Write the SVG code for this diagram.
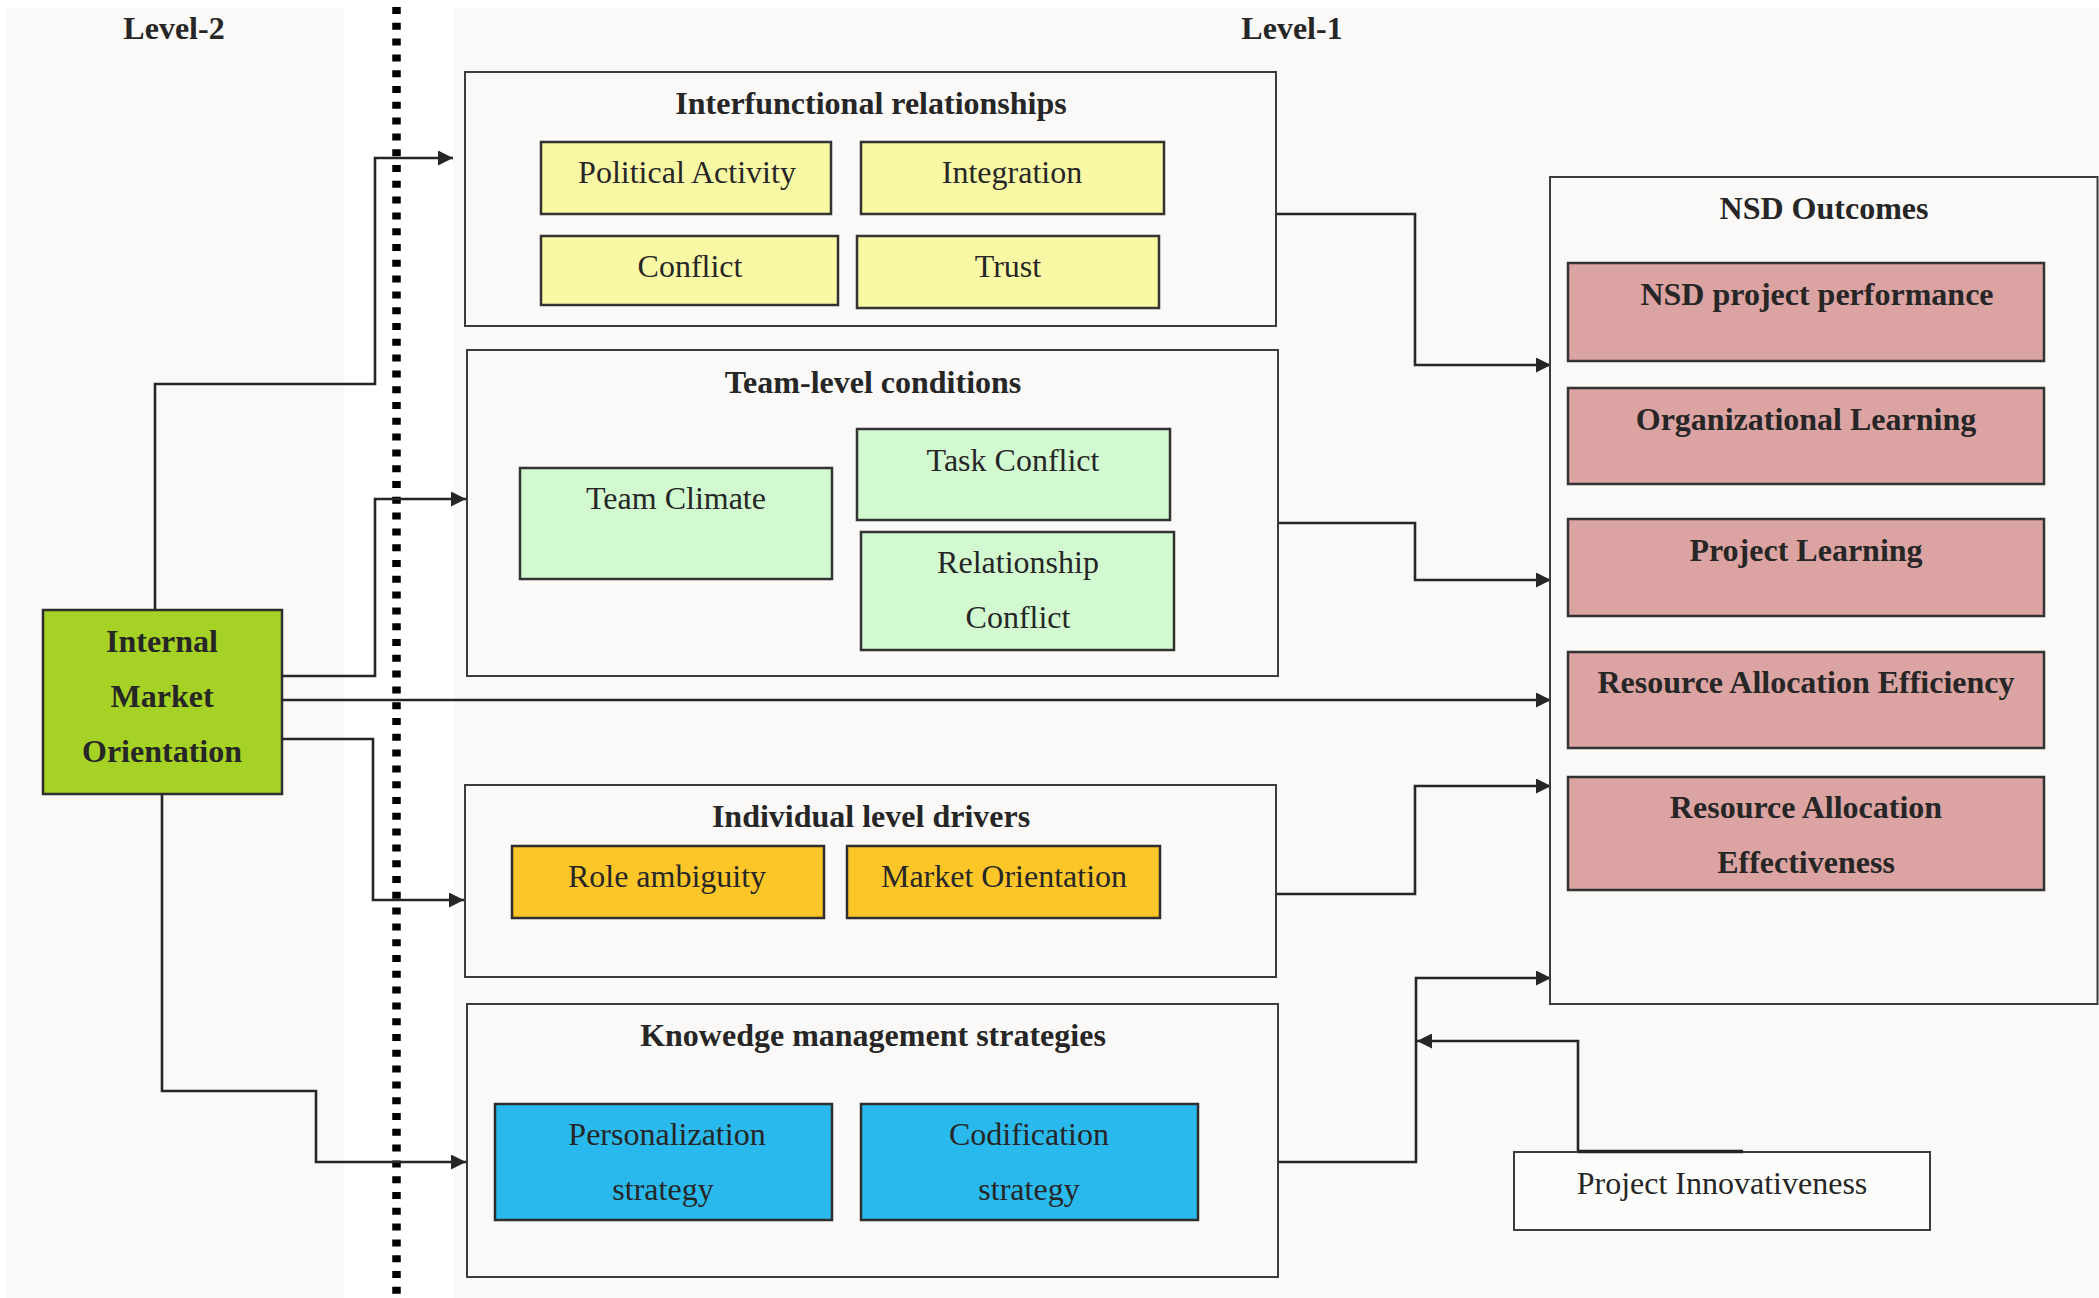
<svg xmlns="http://www.w3.org/2000/svg" width="2099" height="1298" viewBox="0 0 2099 1298">
  <style>
    text { font-family: "Liberation Serif", "Times New Roman", serif; font-size: 32px; fill: #262626; text-anchor: middle; }
    .b { font-weight: bold; }
    .panel { fill: #FAF9F7; }
    .group { fill: #FAF9F7; stroke: #3C3C3C; stroke-width: 2; }
    .yellow { fill: #F9F8A5; stroke: #333; stroke-width: 2.5; }
    .green { fill: #D2F9D0; stroke: #333; stroke-width: 2.5; }
    .orange { fill: #FDC628; stroke: #2E2E2E; stroke-width: 2.5; }
    .blue { fill: #2AB9EC; stroke: #2E2E2E; stroke-width: 2.5; }
    .pink { fill: #DBA3A2; stroke: #333; stroke-width: 2.5; }
    .lime { fill: #A6D125; stroke: #2E2E2E; stroke-width: 2.5; }
    .plain { fill: #FCFCFB; stroke: #3C3C3C; stroke-width: 2; }
    .conn { fill: none; stroke: #262626; stroke-width: 2.6; }
    .arrow { marker-end: url(#head); }
  </style>
  <defs>
    <marker id="head" markerUnits="userSpaceOnUse" markerWidth="15" markerHeight="15" refX="15" refY="7.5" orient="auto">
      <path d="M0,0 L15,7.5 L0,15 Z" fill="#262626"/>
    </marker>
  </defs>

  <!-- backgrounds of the two levels -->
  <rect width="2099" height="1298" fill="#FFFFFF"/>
  <rect class="panel" x="7" y="8" width="337" height="1290"/>
  <rect class="panel" x="453" y="8" width="1646" height="1290"/>

  <text class="b" x="174" y="39">Level-2</text>
  <text class="b" x="1292" y="39">Level-1</text>

  <!-- level divider -->
  <line x1="396.5" y1="7" x2="396.5" y2="1298" stroke="#000" stroke-width="8.5" stroke-dasharray="7 8.8"/>

  <!-- connectors -->
  <g id="connectors">
    <path class="conn arrow" d="M155,610 V384 H375 V158 H453"/>
    <path class="conn arrow" d="M282,676 H375 V499 H466"/>
    <path class="conn arrow" d="M282,700 H1551"/>
    <path class="conn arrow" d="M282,739 H373 V900 H464"/>
    <path class="conn arrow" d="M162,794 V1091 H316 V1162 H466"/>
    <path class="conn arrow" d="M1276,214 H1415 V365 H1551"/>
    <path class="conn arrow" d="M1278,523 H1415 V580 H1551"/>
    <path class="conn arrow" d="M1276,894 H1415 V786 H1551"/>
    <path class="conn arrow" d="M1278,1162 H1416 V978 H1551"/>
    <path class="conn arrow" d="M1578,1152 V1041 H1417"/>
  </g>

  <!-- Level-2 driver -->
  <g id="internal-market-orientation">
    <rect class="lime" x="43" y="610" width="239" height="184"/>
    <text class="b" x="162" y="652">Internal</text>
    <text class="b" x="162" y="707">Market</text>
    <text class="b" x="162" y="762">Orientation</text>
  </g>

  <!-- Level-1 groups -->
  <g id="interfunctional-relationships">
    <rect class="group" x="465" y="72" width="811" height="254"/>
    <text class="b" x="871" y="114">Interfunctional relationships</text>
    <g id="political-activity">
      <rect class="yellow" x="541" y="142" width="290" height="72"/>
      <text x="687" y="183">Political Activity</text>
    </g>
    <g id="integration">
      <rect class="yellow" x="861" y="142" width="303" height="72"/>
      <text x="1012" y="183">Integration</text>
    </g>
    <g id="conflict">
      <rect class="yellow" x="541" y="236" width="297" height="69"/>
      <text x="690" y="277">Conflict</text>
    </g>
    <g id="trust">
      <rect class="yellow" x="857" y="236" width="302" height="72"/>
      <text x="1008" y="277">Trust</text>
    </g>
  </g>

  <g id="team-level-conditions">
    <rect class="group" x="467" y="350" width="811" height="326"/>
    <text class="b" x="873" y="393">Team-level conditions</text>
    <g id="team-climate">
      <rect class="green" x="520" y="468" width="312" height="111"/>
      <text x="676" y="509">Team Climate</text>
    </g>
    <g id="task-conflict">
      <rect class="green" x="857" y="429" width="313" height="91"/>
      <text x="1013" y="471">Task Conflict</text>
    </g>
    <g id="relationship-conflict">
      <rect class="green" x="861" y="532" width="313" height="118"/>
      <text x="1018" y="573">Relationship</text>
      <text x="1018" y="628">Conflict</text>
    </g>
  </g>

  <g id="individual-level-drivers">
    <rect class="group" x="465" y="785" width="811" height="192"/>
    <text class="b" x="871" y="827">Individual level drivers</text>
    <g id="role-ambiguity">
      <rect class="orange" x="512" y="846" width="312" height="72"/>
      <text x="667" y="887">Role ambiguity</text>
    </g>
    <g id="market-orientation">
      <rect class="orange" x="847" y="846" width="313" height="72"/>
      <text x="1004" y="887">Market Orientation</text>
    </g>
  </g>

  <g id="knowledge-management-strategies">
    <rect class="group" x="467" y="1004" width="811" height="273"/>
    <text class="b" x="873" y="1046">Knowedge management strategies</text>
    <g id="personalization-strategy">
      <rect class="blue" x="495" y="1104" width="337" height="116"/>
      <text x="667" y="1145">Personalization</text>
      <text x="663" y="1200">strategy</text>
    </g>
    <g id="codification-strategy">
      <rect class="blue" x="861" y="1104" width="337" height="116"/>
      <text x="1029" y="1145">Codification</text>
      <text x="1029" y="1200">strategy</text>
    </g>
  </g>

  <g id="nsd-outcomes">
    <rect class="group" x="1550" y="177" width="547.5" height="827"/>
    <text class="b" x="1824" y="219">NSD Outcomes</text>
    <g id="nsd-project-performance">
      <rect class="pink" x="1568" y="263" width="476" height="98"/>
      <text class="b" x="1817" y="305">NSD project performance</text>
    </g>
    <g id="organizational-learning">
      <rect class="pink" x="1568" y="388" width="476" height="96"/>
      <text class="b" x="1806" y="430">Organizational Learning</text>
    </g>
    <g id="project-learning">
      <rect class="pink" x="1568" y="519" width="476" height="97"/>
      <text class="b" x="1806" y="561">Project Learning</text>
    </g>
    <g id="resource-allocation-efficiency">
      <rect class="pink" x="1568" y="652" width="476" height="96"/>
      <text class="b" x="1806" y="693">Resource Allocation Efficiency</text>
    </g>
    <g id="resource-allocation-effectiveness">
      <rect class="pink" x="1568" y="777" width="476" height="113"/>
      <text class="b" x="1806" y="818">Resource Allocation</text>
      <text class="b" x="1806" y="873">Effectiveness</text>
    </g>
  </g>

  <g id="project-innovativeness">
    <rect class="plain" x="1514" y="1152" width="416" height="78"/>
    <line x1="1578" y1="1151.5" x2="1743" y2="1151.5" stroke="#262626" stroke-width="3.5"/>
    <text x="1722" y="1194">Project Innovativeness</text>
  </g>
</svg>
